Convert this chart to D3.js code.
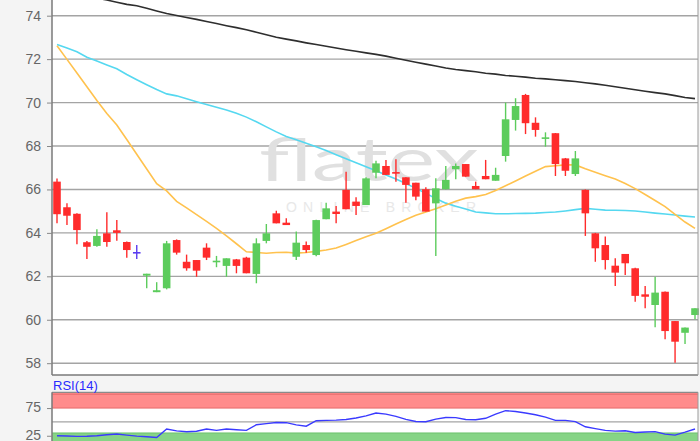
<!DOCTYPE html>
<html>
<head>
<meta charset="utf-8">
<script src="https://cdn.jsdelivr.net/npm/d3@7/dist/d3.min.js"></script>
<style>
  body { margin: 0; background: #f4f4f4; }
  svg { display: block; font-family: "Liberation Sans", Arial, sans-serif; }
</style>
</head>
<body>
<svg id="chart" width="700" height="441"></svg>
<script>
// daily candles, oldest first
const open_ = [66.36,65.18,64.88,63.57,63.40,63.98,64.12,63.58,63.12,62.03,61.27,61.45,63.67,62.67,62.75,63.32,62.66,62.48,62.78,62.86,
  62.11,63.63,64.90,64.47,62.90,63.44,62.98,64.63,64.98,65.98,65.44,65.28,66.77,67.08,66.80,66.56,66.31,66.01,65.36,66.01,
  66.93,67.17,66.16,66.62,66.40,67.54,69.20,70.35,69.07,68.34,68.59,67.43,66.71,65.98,63.98,63.44,62.49,63.03,62.37,61.17,
  60.68,61.29,59.94,59.40,60.22];
const high = [66.50,65.36,64.90,63.63,64.17,64.95,64.59,63.60,63.44,62.12,61.73,63.63,63.70,63.00,62.75,63.52,62.94,62.83,62.80,62.90,
  63.75,64.41,65.02,64.67,64.06,63.60,64.60,65.39,65.24,66.82,65.64,66.56,67.32,67.36,67.39,66.56,66.31,66.10,66.51,67.08,
  67.20,67.17,66.36,67.36,67.00,70.00,70.20,70.40,69.32,68.63,68.60,67.45,67.77,66.00,64.00,63.83,62.83,63.03,62.40,61.55,
  61.98,61.30,59.94,59.64,60.53];
const low = [64.44,64.36,63.48,62.80,63.36,63.36,63.64,62.86,62.80,61.45,61.27,61.40,63.00,62.26,61.98,62.75,62.42,61.98,62.14,62.14,
  61.68,63.52,64.44,64.36,62.75,63.09,62.93,64.63,64.44,65.09,64.82,65.28,66.51,66.67,66.36,65.39,65.50,64.98,62.94,66.00,
  66.47,66.59,66.01,66.47,66.40,67.28,68.71,68.55,68.43,67.97,66.62,66.62,66.62,63.86,62.67,62.32,61.55,62.06,60.83,60.53,
  59.65,59.10,58.02,58.88,60.02];
const close = [64.86,64.79,64.13,63.36,63.86,63.58,64.00,63.21,63.12,62.12,61.36,63.52,63.09,62.37,62.26,62.86,62.72,62.83,62.48,62.14,
  63.52,63.98,64.44,64.36,63.55,63.21,64.59,65.13,64.87,65.09,65.24,66.51,67.20,66.67,66.74,66.21,65.67,64.98,66.05,66.44,
  67.08,66.59,66.01,66.47,66.67,69.23,69.84,69.05,68.74,68.40,67.17,66.86,67.43,64.90,63.29,62.75,62.17,62.60,61.10,61.06,
  61.25,59.48,58.99,59.64,60.53];

// moving averages
const ma_long = [75.28,75.14,75.02,74.91,74.81,74.72,74.62,74.52,74.46,74.34,74.22,74.10,74.01,73.92,73.83,73.73,73.64,73.54,73.45,73.35,
  73.24,73.12,73.01,72.92,72.84,72.75,72.67,72.59,72.51,72.43,72.36,72.29,72.22,72.14,72.04,71.95,71.86,71.77,71.68,71.59,
  71.52,71.47,71.42,71.35,71.31,71.25,71.21,71.17,71.12,71.09,71.05,71.01,70.97,70.91,70.86,70.80,70.73,70.66,70.59,70.52,
  70.46,70.40,70.32,70.23,70.18];
const ma_mid = [72.67,72.51,72.34,72.09,71.91,71.73,71.56,71.29,71.05,70.82,70.60,70.40,70.31,70.18,70.04,69.91,69.78,69.66,69.51,69.33,
  69.12,68.88,68.65,68.44,68.29,68.13,67.97,67.79,67.60,67.41,67.23,67.04,66.86,66.67,66.48,66.27,66.05,65.82,65.58,65.37,
  65.23,65.10,64.96,64.92,64.88,64.88,64.89,64.90,64.91,64.94,64.96,65.01,65.07,65.13,65.09,65.05,65.04,65.03,65.01,64.96,
  64.91,64.87,64.82,64.77,64.73];
const ma_short = [72.62,71.99,71.36,70.73,70.10,69.50,68.97,68.30,67.62,66.94,66.27,65.93,65.45,65.15,64.84,64.53,64.21,63.86,63.50,63.13,
  63.10,63.06,63.10,63.11,63.07,63.10,63.15,63.21,63.30,63.47,63.65,63.82,63.98,64.19,64.41,64.62,64.81,64.96,65.11,65.28,
  65.46,65.60,65.67,65.77,65.95,66.17,66.39,66.62,66.84,67.05,67.09,67.13,67.13,66.95,66.79,66.63,66.48,66.27,66.04,65.77,
  65.49,65.21,64.85,64.50,64.21];

const rsi = [25.1,24.5,23.8,24.0,25.1,26.9,28.2,26.2,24.4,23.3,21.8,37.2,33.8,32.3,33.2,37.2,34.7,37.2,35.9,34.7,
  44.9,46.8,48.9,48.6,44.6,42.2,52.2,52.7,53.2,54.3,57.0,60.8,66.1,64.1,60.1,54.5,50.7,50.4,55.1,57.9,
  57.8,54.3,54.0,56.5,63.9,70.2,68.8,66.1,63.0,58.5,52.7,52.7,50.4,41.2,37.9,34.7,33.4,34.1,31.0,31.9,
  32.5,28.0,26.2,31.4,37.2];

const price_ticks = [58, 60, 62, 64, 66, 68, 70, 72, 74];
const rsi_ticks = [25, 75];
const rsi_mid = 50;
const rsi_high = 75, rsi_low = 30;

const svg = d3.select("#chart");
const left = 52, right = 698;
const mainBottom = 375, rsiTop = 392.3;

let x = d3.scaleLinear().domain([0, open_.length - 1]).range([57, 695]);
let y = d3.scaleLinear().domain([58, 74]).range([363.2, 15.7]);
let ry = d3.scaleLinear().domain([0, 100]).range([449.6, 394.2]);
const step = x(1) - x(0);

// plot backgrounds
svg.append("rect").attr("x", left).attr("y", -2).attr("width", right - left).attr("height", mainBottom + 2).attr("fill", "#fff");
svg.append("rect").attr("x", left).attr("y", rsiTop).attr("width", right - left).attr("height", 60).attr("fill", "#fff");

// grid
let g = svg.append("g");
g.selectAll(".grid").data(price_ticks).enter().append("line")
  .attr("x1", left).attr("x2", right)
  .attr("y1", d => y(d)).attr("y2", d => y(d))
  .attr("stroke", "#a4a4a4").attr("stroke-width", 1.4);

// watermark
g.append("text").attr("x", 259).attr("y", 181)
  .attr("textLength", 220).attr("lengthAdjust", "spacingAndGlyphs")
  .style("font-family", "Lato, 'Open Sans', sans-serif").style("font-weight", 400)
  .style("font-size", "60px").attr("fill", "#e0e0e0").text("flatex");
g.append("text").attr("x", 286).attr("y", 212)
  .attr("textLength", 190).attr("lengthAdjust", "spacing")
  .style("font-size", "14px").attr("fill", "#e8e8e8").text("ONLINE BROKER");

// moving averages
const line = d3.line().x((d, i) => x(i)).y(d => y(d));
[[ma_long, "#2e2e2e"], [ma_mid, "#55d8f0"], [ma_short, "#ffc24e"]].forEach(function(m) {
  g.append("path").datum(m[0]).attr("d", line)
   .attr("fill", "none").attr("stroke", m[1]).attr("stroke-width", 1.6);
});

// candles
function candleColor(i) {
  if (close[i] > open_[i]) return "#5ccc5c";
  if (close[i] < open_[i]) return "#ff2b2b";
  return "#5a3cf0";
}
const idx = d3.range(open_.length);
let candle = g.selectAll(".candle").data(idx).enter().append("g").attr("class", "candle");
candle.append("line")
  .attr("x1", i => x(i)).attr("x2", i => x(i))
  .attr("y1", i => y(high[i])).attr("y2", i => y(low[i]))
  .attr("stroke", candleColor).attr("stroke-width", 1.4);
candle.append("rect")
  .attr("x", i => x(i) - step * 0.38)
  .attr("width", step * 0.76)
  .attr("y", i => y(Math.max(open_[i], close[i])))
  .attr("height", i => Math.max(1.6, Math.abs(y(open_[i]) - y(close[i]))))
  .attr("fill", candleColor);

// main axes
svg.append("line").attr("x1", left).attr("x2", left).attr("y1", -2).attr("y2", mainBottom)
  .attr("stroke", "#7a7a7a").attr("stroke-width", 1.5);
svg.append("line").attr("x1", left).attr("x2", right).attr("y1", mainBottom).attr("y2", mainBottom)
  .attr("stroke", "#7a7a7a").attr("stroke-width", 1.5);
svg.append("line").attr("x1", right).attr("x2", right).attr("y1", -2).attr("y2", mainBottom)
  .attr("stroke", "#9a9a9a").attr("stroke-width", 1);

let yAxis = svg.append("g").attr("transform", "translate(" + left + ",0)")
  .call(d3.axisLeft(y).tickValues(price_ticks).tickSize(5).tickPadding(6).tickFormat(d3.format("d")));
yAxis.select(".domain").remove();
yAxis.selectAll(".tick line").attr("stroke", "#888");
yAxis.selectAll("text").attr("fill", "#666").style("font-size", "14px");

// RSI panel
let r = svg.append("g");
r.append("rect").attr("x", left).attr("width", right - left)
  .attr("y", rsiTop).attr("height", ry(rsi_high) - rsiTop).attr("fill", "#ff8c8c");
r.append("line").attr("x1", left).attr("x2", right).attr("y1", ry(100)).attr("y2", ry(100))
  .attr("stroke", "#e66a6a").attr("stroke-width", 1);
r.append("line").attr("x1", left).attr("x2", right).attr("y1", ry(rsi_high)).attr("y2", ry(rsi_high))
  .attr("stroke", "#e66a6a").attr("stroke-width", 1);
r.append("rect").attr("x", left).attr("width", right - left)
  .attr("y", ry(rsi_low)).attr("height", 20).attr("fill", "#86d486");
r.append("line").attr("x1", left).attr("x2", right).attr("y1", ry(rsi_low)).attr("y2", ry(rsi_low))
  .attr("stroke", "#6cc26c").attr("stroke-width", 1);
r.append("line").attr("x1", left).attr("x2", right).attr("y1", ry(rsi_mid)).attr("y2", ry(rsi_mid))
  .attr("stroke", "#a4a4a4").attr("stroke-width", 1.4);
r.append("path").datum(rsi)
  .attr("d", d3.line().x((d, i) => x(i)).y(d => ry(d)))
  .attr("fill", "none").attr("stroke", "#3a3aff").attr("stroke-width", 1.4);

r.append("line").attr("x1", left).attr("x2", right).attr("y1", rsiTop).attr("y2", rsiTop)
  .attr("stroke", "#8a8a8a").attr("stroke-width", 1.3);
r.append("line").attr("x1", left).attr("x2", left).attr("y1", rsiTop).attr("y2", 445)
  .attr("stroke", "#7a7a7a").attr("stroke-width", 1.5);
r.append("line").attr("x1", right).attr("x2", right).attr("y1", rsiTop).attr("y2", 445)
  .attr("stroke", "#9a9a9a").attr("stroke-width", 1);

let rAxis = r.append("g").attr("transform", "translate(" + left + ",0)")
  .call(d3.axisLeft(ry).tickValues(rsi_ticks).tickSize(5).tickPadding(6));
rAxis.select(".domain").remove();
rAxis.selectAll(".tick line").attr("stroke", "#888");
rAxis.selectAll("text").attr("fill", "#666").style("font-size", "14px").attr("dy", "0.25em");

r.append("text").attr("x", 53).attr("y", 390)
  .style("font-size", "13px").attr("fill", "#2a2aff").text("RSI(14)");
</script>
</body>
</html>
